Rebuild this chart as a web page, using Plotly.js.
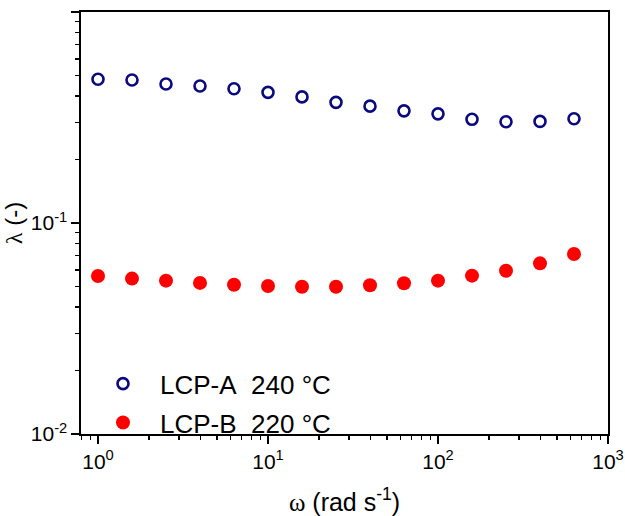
<!DOCTYPE html>
<html>
<head>
<meta charset="utf-8">
<script src="https://cdn.plot.ly/plotly-3.0.1.min.js"></script>
<style>html,body{margin:0;padding:0;background:#fff;}#chart{width:625px;height:516px;}</style>
</head>
<body>
<div id="chart"></div>
<script>
var omega = [1, 1.585, 2.512, 3.981, 6.310, 10, 15.85, 25.12, 39.81, 63.10, 100, 158.5, 251.2, 398.1, 631.0];
var lambdaA = [0.480, 0.476, 0.456, 0.446, 0.433, 0.416, 0.396, 0.373, 0.358, 0.340, 0.329, 0.310, 0.302, 0.303, 0.312];
var lambdaB = [0.0561, 0.0545, 0.0533, 0.0520, 0.0510, 0.0503, 0.0499, 0.0499, 0.0507, 0.0518, 0.0533, 0.0563, 0.0594, 0.0644, 0.0713];
var nameA = 'LCP-A\u00a0\u00a0240 °C';
var nameB = 'LCP-B\u00a0\u00a0220 °C';
var xTickVals = [1, 10, 100, 1000];
var xTickText = ['10<sup>0</sup>', '10<sup>1</sup>', '10<sup>2</sup>', '10<sup>3</sup>'];
var yTickVals = [0.01, 0.1, 1];
var yTickText = ['10<sup>-2</sup>', '10<sup>-1</sup>', '10<sup>0</sup>'];

function minorVals(decades) {
  var out = [];
  decades.forEach(function (d) {
    for (var m = 2; m <= 9; m++) out.push(m * d);
  });
  return out;
}
var xMinor = [0.8, 0.9].concat(minorVals([1, 10, 100]));
var yMinor = minorVals([0.01, 0.1]);

var font = 'Arial, "Liberation Sans", sans-serif';
var serif = '\'Times New Roman\', \'Liberation Serif\', serif';

var traces = [
  {
    x: omega, y: lambdaA, name: nameA, type: 'scatter', mode: 'markers',
    legendgroup: 'a',
    marker: {symbol: 'circle-open', size: 11, color: '#0a0a80', line: {width: 2.6, color: '#0a0a80'}}
  },
  {
    x: omega, y: lambdaB, name: nameB, type: 'scatter', mode: 'markers',
    legendgroup: 'b',
    marker: {symbol: 'circle', size: 14, color: '#ff0000'}
  }
];

var axisCommon = {
  type: 'log',
  showline: true, linecolor: '#000', linewidth: 1.6, mirror: true,
  showgrid: false, zeroline: false,
  ticks: 'outside', ticklen: 8, tickwidth: 1.6, tickcolor: '#000',
  tickmode: 'array',
  tickfont: {family: font, size: 21, color: '#000'}
};

var layout = {
  width: 625, height: 516,
  margin: {l: 81, r: 17, t: 12, b: 82},
  paper_bgcolor: '#fff', plot_bgcolor: '#fff',
  font: {family: font, color: '#000'},
  showlegend: true,
  legend: {
    x: 0.0095, y: -0.029, xanchor: 'left', yanchor: 'bottom',
    bgcolor: 'rgba(0,0,0,0)', borderwidth: 0,
    font: {family: font, size: 26, color: '#000'},
    itemwidth: 64,
    traceorder: 'grouped', tracegroupgap: 2
  },
  xaxis: Object.assign({}, axisCommon, {
    range: [-0.1, 3],
    tickvals: xTickVals, ticktext: xTickText,
    minor: {tickmode: 'array', tickvals: xMinor, ticks: 'outside', ticklen: 4.5, tickwidth: 1.4, tickcolor: '#000', showgrid: false},
    title: {text: '<span style="font-family:' + serif + '">ω</span> (rad s<sup>-1</sup>)', font: {family: font, size: 25, color: '#000'}, standoff: 23}
  }),
  yaxis: Object.assign({}, axisCommon, {
    range: [-2, 0],
    tickvals: yTickVals, ticktext: yTickText,
    minor: {tickmode: 'array', tickvals: yMinor, ticks: 'outside', ticklen: 4.5, tickwidth: 1.4, tickcolor: '#000', showgrid: false},
    title: {text: '<span style="font-family:' + serif + '">λ</span> (-)', font: {family: font, size: 24, color: '#000'}, standoff: 4}
  })
};

Plotly.newPlot('chart', traces, layout, {displayModeBar: false, staticPlot: true});
</script>
</body>
</html>
